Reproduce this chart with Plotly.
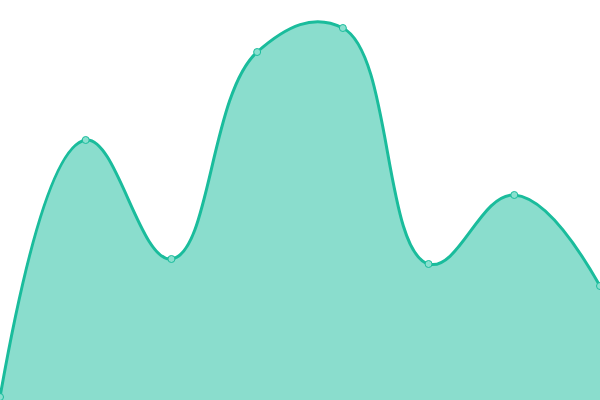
import plotly.graph_objects as go

# Values (pixel scale, 0 at bottom, 400 at top).
steps = [0, 1, 2, 3, 4, 5, 6, 7]
values = [3, 260, 141, 348, 372, 136, 205, 114]

fig = go.Figure()
fig.add_trace(go.Scatter(
    x=steps, y=values, mode="lines+markers", fill="tozeroy",
    line=dict(color="#1abc9c", width=3, shape="spline", smoothing=1.2),
    fillcolor="rgba(26,188,156,0.51)",
    marker=dict(size=7, color="#8ae0cf", line=dict(color="#1abc9c", width=1)),
    cliponaxis=False, hoverinfo="skip",
))
fig.update_layout(
    width=600, height=400, margin=dict(l=0, r=0, t=0, b=0),
    paper_bgcolor="white", plot_bgcolor="white", showlegend=False,
)
fig.update_xaxes(visible=False, range=[0, 7])
fig.update_yaxes(visible=False, range=[0, 400])
# drop the default page margin so the chart sits at the window corner
fig.write_html("out.html", config={"displayModeBar": False},
               post_script="document.body.style.margin='0';document.body.style.overflow='hidden';")
